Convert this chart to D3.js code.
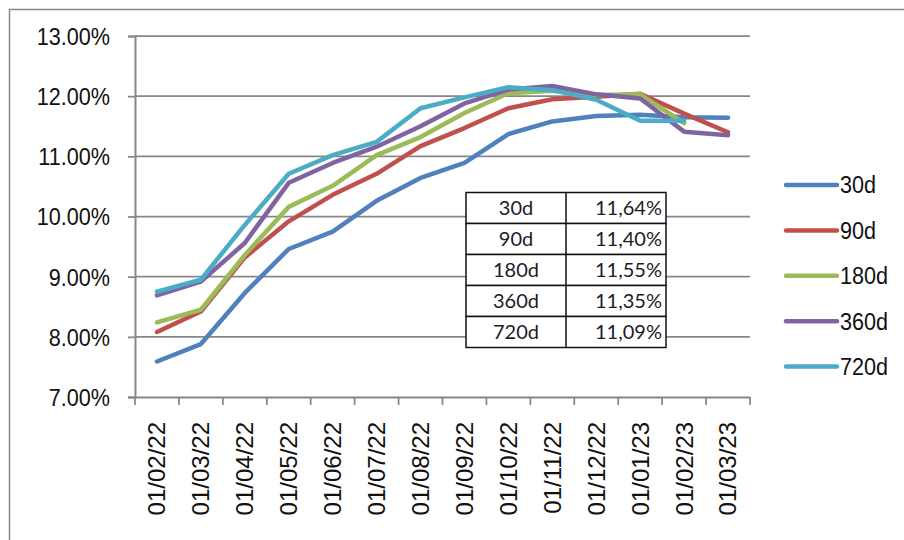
<!DOCTYPE html>
<html>
<head>
<meta charset="utf-8">
<script src="https://cdn.jsdelivr.net/npm/d3@7"></script>
<style>
  body { margin: 0; background: #fff; }
  svg { display: block; }
</style>
</head>
<body>
<div id="grafico"></div>
<script>
const dates = ['01/02/22', '01/03/22', '01/04/22', '01/05/22', '01/06/22', '01/07/22', '01/08/22',
  '01/09/22', '01/10/22', '01/11/22', '01/12/22', '01/01/23', '01/02/23', '01/03/23']

const serie30 = [7.59, 7.88, 8.73, 9.46, 9.75, 10.26, 10.64, 10.89, 11.37, 11.58, 11.67, 11.69, 11.65, 11.64]
const serie90 = [8.08, 8.42, 9.32, 9.92, 10.36, 10.71, 11.17, 11.47, 11.80, 11.95, 11.99, 12.04, 11.71, 11.40]
const serie180 = [8.24, 8.45, 9.36, 10.16, 10.51, 11.02, 11.32, 11.72, 12.05, 12.09, 12.02, 12.03, 11.55, null]
const serie360 = [8.69, 8.92, 9.56, 10.56, 10.89, 11.16, 11.50, 11.88, 12.11, 12.17, 12.03, 11.96, 11.41, 11.35]
const serie720 = [8.75, 8.95, 9.86, 10.71, 11.02, 11.24, 11.80, 11.98, 12.15, 12.10, 11.94, 11.59, 11.59, null]

const seriesNames = ['30d', '90d', '180d', '360d', '720d']
const seriesColors = ['#4F81BD', '#C0504D', '#9BBB59', '#8064A2', '#4BACC6']

const yTicks = [7, 8, 9, 10, 11, 12, 13]

const tableLabels = ['30d', '90d', '180d', '360d', '720d']
const tableValues = ['11,64%', '11,40%', '11,55%', '11,35%', '11,09%']

const width = 904
const height = 540
const margin = { top: 36, bottom: 143, left: 135, right: 154 }
const gridColor = '#878787'
const arial = '"Liberation Sans", Arial, sans-serif'

const svg = d3.select('#grafico')
  .append('svg')
  .attr('width', width)
  .attr('height', height)

// moldura (so topo e esquerda ficam visiveis)
svg.append('path')
  .attr('d', `M9.5,${height} V9.5 H${width}`)
  .attr('fill', 'none')
  .attr('stroke', gridColor)
  .attr('stroke-width', 1.5)

// Eixo x
const x = d3.scaleBand()
  .domain(dates)
  .range([margin.left, width - margin.right])
  .padding(0)

// Eixo y
const y = d3.scaleLinear()
  .domain([7, 13])
  .range([height - margin.bottom, margin.top])

// linhas de grelha
svg.append('g')
  .selectAll('line')
  .data(yTicks.slice(1))
  .join('line')
  .attr('x1', margin.left)
  .attr('x2', width - margin.right)
  .attr('y1', d => y(d))
  .attr('y2', d => y(d))
  .attr('stroke', gridColor)
  .attr('stroke-width', 1.75)

const yAxis = (g) => {
  g.attr('transform', `translate(${margin.left},0)`)
    .call(d3.axisLeft(y).tickValues(yTicks).tickSize(7).tickPadding(0).tickFormat(d => d3.format('.2f')(d) + '%'))
  g.select('.domain').attr('stroke', gridColor).attr('stroke-width', 2)
  g.selectAll('.tick line').attr('stroke', gridColor).attr('stroke-width', 1.75)
  g.selectAll('.tick text')
    .attr('x', 0)
    .attr('dy', '0.35em')
    .attr('transform', 'translate(-25,0) scale(0.9,1)')
    .attr('fill', '#111')
    .style('font-family', arial)
    .style('font-size', '24px')
}

const xAxis = (g) => {
  g.attr('transform', `translate(0,${height - margin.bottom})`)
    .call(d3.axisBottom(x).tickSize(0).tickSizeOuter(0))
  g.select('.domain').attr('stroke', gridColor).attr('stroke-width', 2)
  g.selectAll('.tick text')
    .attr('y', 0)
    .attr('dy', '0.35em')
    .attr('text-anchor', 'end')
    .attr('transform', 'translate(0,25) rotate(-90)')
    .attr('fill', '#111')
    .style('font-family', arial)
    .style('font-size', '24px')
}

svg.append('g').call(yAxis)
svg.append('g').call(xAxis)

// marcas entre categorias
svg.append('g')
  .selectAll('line')
  .data(d3.range(dates.length + 1))
  .join('line')
  .attr('x1', i => margin.left + i * x.step())
  .attr('x2', i => margin.left + i * x.step())
  .attr('y1', y(7))
  .attr('y2', y(7) + 8)
  .attr('stroke', gridColor)
  .attr('stroke-width', 1.75)

// Linhas das series
const allSeries = [serie30, serie90, serie180, serie360, serie720]

const line = d3.line()
  .defined(d => d != null)
  .x((d, i) => x(dates[i]) + x.bandwidth() / 2)
  .y(d => y(d))

svg.append('g')
  .selectAll('path')
  .data(allSeries)
  .join('path')
  .attr('d', d => line(d))
  .attr('fill', 'none')
  .attr('stroke', (d, i) => seriesColors[i])
  .attr('stroke-width', 4.5)
  .attr('stroke-linejoin', 'round')
  .attr('stroke-linecap', 'round')

// Tabela
const table = { x: 466, y: 192.5, colW: 100, rowH: 31 }

const rows = svg.append('g')
  .selectAll('g')
  .data(tableLabels)
  .join('g')
  .attr('transform', (d, i) => `translate(${table.x},${table.y + i * table.rowH})`)

rows.append('rect')
  .attr('width', table.colW * 2)
  .attr('height', table.rowH)
  .attr('fill', '#fff')
  .attr('stroke', '#111')
  .attr('stroke-width', 1.5)

rows.append('line')
  .attr('x1', table.colW)
  .attr('x2', table.colW)
  .attr('y1', 0)
  .attr('y2', table.rowH)
  .attr('stroke', '#111')
  .attr('stroke-width', 1.5)

rows.append('text')
  .attr('x', table.colW / 2)
  .attr('y', table.rowH / 2)
  .attr('dy', '0.36em')
  .attr('text-anchor', 'middle')
  .attr('fill', '#1c1c28')
  .style('font-family', 'Lato, sans-serif')
  .style('font-size', '20px')
  .text(d => d)

rows.append('text')
  .attr('x', table.colW * 2 - 4)
  .attr('y', table.rowH / 2)
  .attr('dy', '0.36em')
  .attr('text-anchor', 'end')
  .attr('fill', '#1c1c28')
  .style('font-family', 'Lato, sans-serif')
  .style('font-size', '20px')
  .text((d, i) => tableValues[i])

// Legenda
const legend = svg.append('g')
  .selectAll('g')
  .data(seriesNames)
  .join('g')
  .attr('transform', (d, i) => `translate(786,${185 + i * 45.4})`)

legend.append('line')
  .attr('x1', 0)
  .attr('x2', 51)
  .attr('stroke', (d, i) => seriesColors[i])
  .attr('stroke-width', 4.5)
  .attr('stroke-linecap', 'round')

legend.append('text')
  .attr('dy', '0.35em')
  .attr('transform', 'translate(54,0) scale(0.9,1)')
  .attr('fill', '#111')
  .style('font-family', arial)
  .style('font-size', '24px')
  .text(d => d)
</script>
</body>
</html>
